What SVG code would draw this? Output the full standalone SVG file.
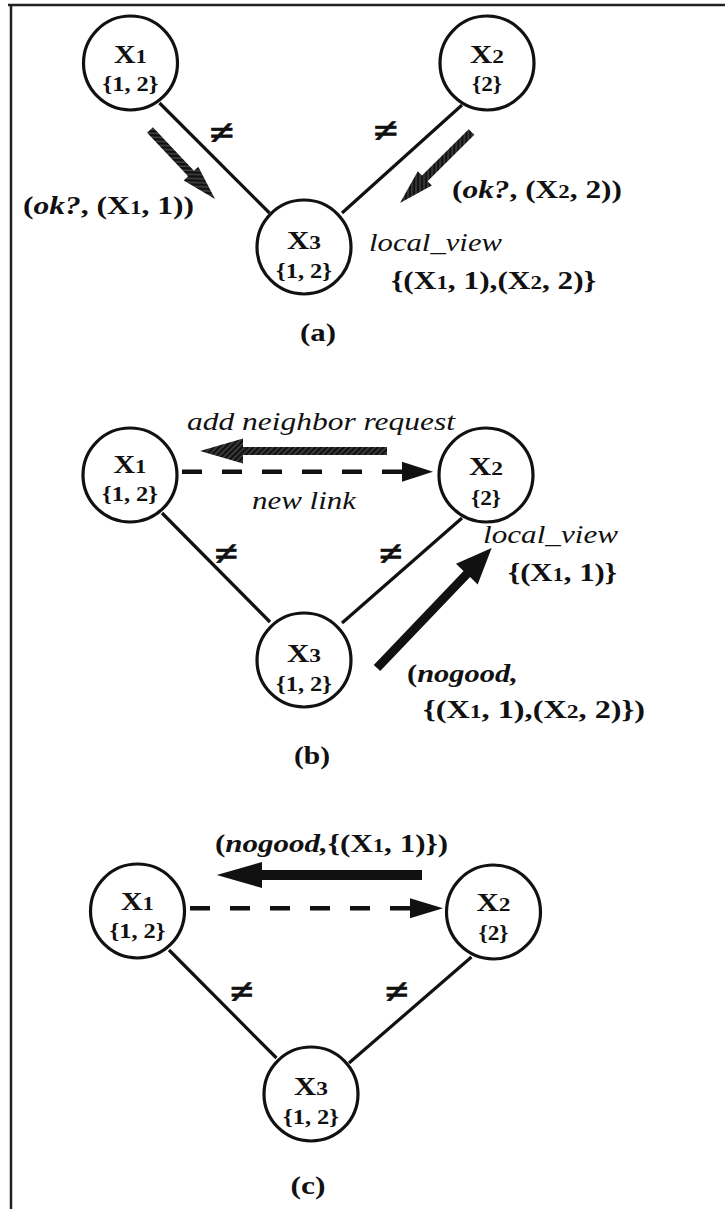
<svg xmlns="http://www.w3.org/2000/svg" width="725" height="1209" viewBox="0 0 725 1209">
<style>
.frame{stroke:#222;stroke-width:2.5;fill:none}
.node circle{fill:#fff;stroke:#111;stroke-width:3.2}
.edge{stroke:#111;stroke-width:3.2;fill:none}
.dash{stroke:#111;stroke-width:4.5;stroke-dasharray:20 20;fill:none}
.t{font-family:"Liberation Serif","Times New Roman",serif;font-weight:bold;fill:#111}
.nx{font-size:25px;text-anchor:middle}
.nd{font-size:21px;text-anchor:middle}
.m{font-size:26px}
.it{font-style:italic}
.nw{font-weight:normal}
.ne{font-size:34px;text-anchor:middle;stroke:#111;stroke-width:0.8}
.cap{font-size:25px;text-anchor:middle}
.sub{font-size:19px}
.blk{fill:#111}
.gry{fill:url(#hatch)}
</style>
<defs>
<pattern id="hatch" width="4" height="4" patternUnits="userSpaceOnUse" patternTransform="rotate(45)">
<rect width="4" height="4" fill="#444"/>
<rect width="2.5" height="4" fill="#111"/>
</pattern>
</defs>
<rect width="725" height="1209" fill="#fff"/>
<g id="frame">
<line class="frame" x1="8" y1="5" x2="725" y2="5"/>
<line class="frame" x1="11" y1="4" x2="11" y2="1209"/>
</g>
<g id="connectors">
<line class="edge" x1="159.5" y1="103" x2="269.5" y2="213"/>
<line class="edge" x1="462" y1="105" x2="342" y2="213"/>
<line class="edge" x1="162" y1="513" x2="270" y2="622"/>
<line class="edge" x1="462" y1="518" x2="342" y2="623"/>
<line class="edge" x1="169" y1="950" x2="276.5" y2="1058"/>
<line class="edge" x1="471.5" y1="957" x2="349" y2="1063"/>
<line class="dash" x1="182" y1="471.7" x2="403" y2="471.7"/>
<polygon class="blk" points="402,461.7 433,471.7 402,481.7"/>
<line class="dash" x1="190" y1="908.3" x2="411" y2="908.3"/>
<polygon class="blk" points="410,898.3 443,908.3 410,918.3"/>
<path class="gry" transform="translate(150,130) rotate(46.7)" d="M0,-4 H59.8 V-10 L94.8,0 L59.8,10 V4 H0 Z"/>
<path class="gry" transform="translate(471.5,132) rotate(135.2)" d="M0,-4 H65.8 V-10 L100.8,0 L65.8,10 V4 H0 Z"/>
<path class="gry" transform="translate(387,451) rotate(180)" d="M0,-4 H144 V-12.5 L187,0 L144,12.5 V4 H0 Z"/>
<path class="blk" transform="translate(377,668) rotate(-46.3)" d="M0,-4.5 H130 V-15 L166,0 L130,15 V4.5 H0 Z"/>
<path class="blk" transform="translate(422,875) rotate(180)" d="M0,-5 H160 V-13 L205.3,0 L160,13 V5 H0 Z"/>
</g>
<g id="a-x1" class="node"><circle cx="130.5" cy="63" r="47"/><text class="t nx" x="130.5" y="63" textLength="33" lengthAdjust="spacingAndGlyphs">X<tspan class="sub">1</tspan></text><text class="t nd" x="130.5" y="91" textLength="56" lengthAdjust="spacingAndGlyphs">{1, 2}</text></g>
<g id="a-x2" class="node"><circle cx="487" cy="63" r="47"/><text class="t nx" x="487" y="63" textLength="34" lengthAdjust="spacingAndGlyphs">X<tspan class="sub">2</tspan></text><text class="t nd" x="487" y="91" textLength="30" lengthAdjust="spacingAndGlyphs">{2}</text></g>
<g id="a-x3" class="node"><circle cx="304" cy="247" r="47"/><text class="t nx" x="304" y="249" textLength="34" lengthAdjust="spacingAndGlyphs">X<tspan class="sub">3</tspan></text><text class="t nd" x="304" y="278" textLength="56" lengthAdjust="spacingAndGlyphs">{1, 2}</text></g>
<g id="b-x1" class="node"><circle cx="130" cy="475" r="47"/><text class="t nx" x="130" y="473" textLength="33" lengthAdjust="spacingAndGlyphs">X<tspan class="sub">1</tspan></text><text class="t nd" x="130" y="501" textLength="56" lengthAdjust="spacingAndGlyphs">{1, 2}</text></g>
<g id="b-x2" class="node"><circle cx="486" cy="475" r="47"/><text class="t nx" x="486" y="475" textLength="34" lengthAdjust="spacingAndGlyphs">X<tspan class="sub">2</tspan></text><text class="t nd" x="486" y="505" textLength="30" lengthAdjust="spacingAndGlyphs">{2}</text></g>
<g id="b-x3" class="node"><circle cx="304" cy="660" r="47"/><text class="t nx" x="304" y="662" textLength="34" lengthAdjust="spacingAndGlyphs">X<tspan class="sub">3</tspan></text><text class="t nd" x="304" y="691" textLength="56" lengthAdjust="spacingAndGlyphs">{1, 2}</text></g>
<g id="c-x1" class="node"><circle cx="137.5" cy="911" r="47"/><text class="t nx" x="137.5" y="910" textLength="33" lengthAdjust="spacingAndGlyphs">X<tspan class="sub">1</tspan></text><text class="t nd" x="137.5" y="938" textLength="56" lengthAdjust="spacingAndGlyphs">{1, 2}</text></g>
<g id="c-x2" class="node"><circle cx="493.5" cy="912" r="47"/><text class="t nx" x="493.5" y="911" textLength="34" lengthAdjust="spacingAndGlyphs">X<tspan class="sub">2</tspan></text><text class="t nd" x="493.5" y="940" textLength="30" lengthAdjust="spacingAndGlyphs">{2}</text></g>
<g id="c-x3" class="node"><circle cx="311" cy="1094" r="47"/><text class="t nx" x="311" y="1095" textLength="34" lengthAdjust="spacingAndGlyphs">X<tspan class="sub">3</tspan></text><text class="t nd" x="311" y="1124" textLength="56" lengthAdjust="spacingAndGlyphs">{1, 2}</text></g>
<g id="labels">
<text class="t ne" x="222" y="144" textLength="24" lengthAdjust="spacingAndGlyphs">≠</text>
<text class="t ne" x="386" y="142" textLength="24" lengthAdjust="spacingAndGlyphs">≠</text>
<text class="t ne" x="226.5" y="565" textLength="23" lengthAdjust="spacingAndGlyphs">≠</text>
<text class="t ne" x="391" y="565" textLength="23" lengthAdjust="spacingAndGlyphs">≠</text>
<text class="t ne" x="242" y="1003" textLength="23" lengthAdjust="spacingAndGlyphs">≠</text>
<text class="t ne" x="397" y="1003" textLength="23" lengthAdjust="spacingAndGlyphs">≠</text>
<text class="t m" x="23" y="214" textLength="171" lengthAdjust="spacingAndGlyphs">(<tspan class="it">ok?</tspan>, (X<tspan class="sub">1</tspan>, 1))</text>
<text class="t m" x="452" y="198" textLength="170" lengthAdjust="spacingAndGlyphs">(<tspan class="it">ok?</tspan>, (X<tspan class="sub">2</tspan>, 2))</text>
<text class="t m it nw" x="369" y="251" textLength="133" lengthAdjust="spacingAndGlyphs">local_view</text>
<text class="t m" x="391" y="289" textLength="205" lengthAdjust="spacingAndGlyphs">{(X<tspan class="sub">1</tspan>, 1),(X<tspan class="sub">2</tspan>, 2)}</text>
<text class="t cap" x="318" y="341" textLength="36" lengthAdjust="spacingAndGlyphs">(a)</text>
<text class="t m it nw" x="187" y="430" textLength="268" lengthAdjust="spacingAndGlyphs">add neighbor request</text>
<text class="t m it nw" x="252" y="509" textLength="104" lengthAdjust="spacingAndGlyphs">new link</text>
<text class="t m it nw" x="483" y="543" textLength="135" lengthAdjust="spacingAndGlyphs">local_view</text>
<text class="t m" x="508" y="581" textLength="109" lengthAdjust="spacingAndGlyphs">{(X<tspan class="sub">1</tspan>, 1)}</text>
<text class="t m" x="407" y="682" textLength="111" lengthAdjust="spacingAndGlyphs">(<tspan class="it">nogood,</tspan></text>
<text class="t m" x="423" y="718" textLength="222" lengthAdjust="spacingAndGlyphs">{(X<tspan class="sub">1</tspan>, 1),(X<tspan class="sub">2</tspan>, 2)})</text>
<text class="t cap" x="312" y="764" textLength="36" lengthAdjust="spacingAndGlyphs">(b)</text>
<text class="t m" x="215" y="852" textLength="233" lengthAdjust="spacingAndGlyphs">(<tspan class="it">nogood,</tspan>{(X<tspan class="sub">1</tspan>, 1)})</text>
<text class="t cap" x="308" y="1194" textLength="35" lengthAdjust="spacingAndGlyphs">(c)</text>
</g>
</svg>
